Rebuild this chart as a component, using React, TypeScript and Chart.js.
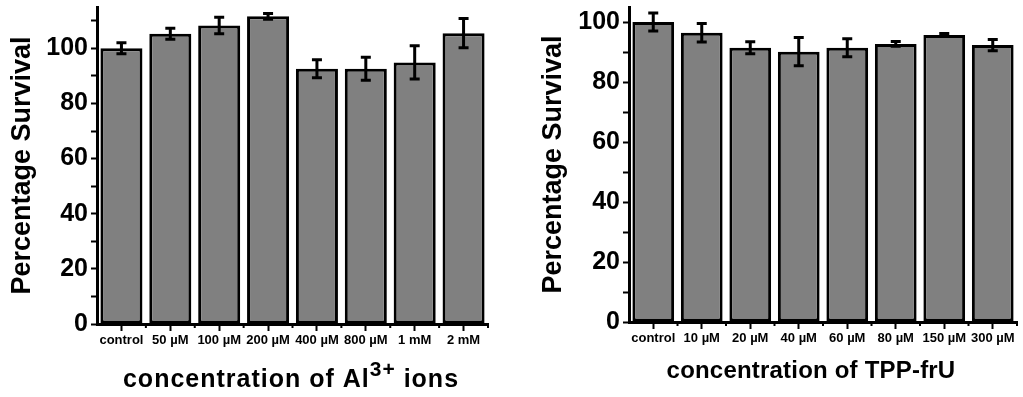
import { useEffect, useRef } from 'react';
import { Chart, registerables } from 'chart.js';

Chart.register(...registerables);

const FONT = '"Liberation Sans", Arial, Helvetica, sans-serif';

// Left panel: Al3+ ions
const alLabels = ['control', '50 µM', '100 µM', '200 µM', '400 µM', '800 µM', '1 mM', '2 mM'];
const alValues = [100, 105.3, 108.3, 111.6, 92.6, 92.6, 94.9, 105.5];
const alErrors = [2, 2, 3, 1, 3.3, 4.2, 6, 5.3];
const alYTicks = [0, 10, 20, 30, 40, 50, 60, 70, 80, 90, 100, 110];

// Right panel: TPP-frU
const tppLabels = ['control', '10 µM', '20 µM', '40 µM', '60 µM', '80 µM', '150 µM', '300 µM'];
const tppValues = [100, 96.4, 91.4, 90.1, 91.4, 92.7, 95.7, 92.3];
const tppErrors = [3, 3.1, 2, 4.7, 3, 0.8, 0.5, 1.9];
const tppYTicks = [0, 10, 20, 30, 40, 50, 60, 70, 80, 90, 100];

const yTitle = 'Percentage Survival';

type Part = { text: string; size: number; rise: number };

function makeConfig(opts: {
  labels: string[];
  values: number[];
  errors: number[];
  yTicks: number[];
  yMax: number;
  axisWidth: number;
  axisHeight: number;
  padRight: number;
  titlePad: number;
  titleParts: Part[];
  titleCenterX: number;
  titleBaseline: number;
  titleSpacing: number;
}): any {
  const errorPlugin = {
    id: 'errbars',
    afterDatasetsDraw(chart: any) {
      const ctx = chart.ctx;
      const xs = chart.scales.x;
      const ys = chart.scales.y;
      ctx.save();
      ctx.strokeStyle = '#000';
      ctx.lineWidth = 3;
      opts.values.forEach((v, i) => {
        const e = opts.errors[i];
        const x = xs.getPixelForValue(i);
        const yt = ys.getPixelForValue(v + e);
        const yb = ys.getPixelForValue(v - e);
        ctx.beginPath();
        ctx.moveTo(x, yt);
        ctx.lineTo(x, yb);
        ctx.moveTo(x - 5, yt);
        ctx.lineTo(x + 5, yt);
        ctx.moveTo(x - 5, yb);
        ctx.lineTo(x + 5, yb);
        ctx.stroke();
      });
      // minor ticks at category boundaries
      const n = opts.labels.length;
      const w = (xs.right - xs.left) / n;
      ctx.lineWidth = 2;
      ctx.beginPath();
      for (let i = 1; i <= n; i++) {
        const x = xs.left + i * w;
        ctx.moveTo(x, xs.top);
        ctx.lineTo(x, xs.top + 4);
      }
      ctx.stroke();
      // x axis title
      ctx.fillStyle = '#000';
      ctx.textBaseline = 'alphabetic';
      ctx.textAlign = 'left';
      (ctx as any).letterSpacing = `${opts.titleSpacing}px`;
      let total = 0;
      const widths = opts.titleParts.map((p) => {
        ctx.font = `bold ${p.size}px ${FONT}`;
        const m = ctx.measureText(p.text).width;
        total += m;
        return m;
      });
      let x = opts.titleCenterX - total / 2;
      opts.titleParts.forEach((p, i) => {
        ctx.font = `bold ${p.size}px ${FONT}`;
        ctx.fillText(p.text, x, opts.titleBaseline - p.rise);
        x += widths[i];
      });
      (ctx as any).letterSpacing = '0px';
      ctx.restore();
    },
  };

  return {
    type: 'bar',
    data: {
      labels: opts.labels,
      datasets: [
        {
          data: opts.values,
          backgroundColor: '#808080',
          borderColor: '#000',
          borderWidth: 3,
          borderSkipped: false,
          categoryPercentage: 1,
          barPercentage: 0.86,
        },
      ],
    },
    options: {
      animation: false,
      responsive: false,
      maintainAspectRatio: false,
      layout: { padding: { top: 7, right: opts.padRight, left: 0, bottom: 0 } },
      plugins: { legend: { display: false }, tooltip: { enabled: false } },
      scales: {
        x: {
          offset: true,
          border: { display: true, color: '#000', width: 3 },
          grid: {
            display: true,
            offset: false,
            drawOnChartArea: false,
            drawTicks: true,
            tickLength: 7,
            tickWidth: 2,
            tickColor: '#000',
          },
          ticks: {
            autoSkip: false,
            maxRotation: 0,
            minRotation: 0,
            padding: 2,
            color: '#000',
            font: { family: FONT, size: 13, weight: 'bold' },
          },
          afterFit(scale: any) {
            scale.height = opts.axisHeight;
          },
        },
        y: {
          min: 0,
          max: opts.yMax,
          afterBuildTicks(scale: any) {
            scale.ticks = opts.yTicks.map((v) => ({ value: v }));
          },
          border: { display: true, color: '#000', width: 3 },
          grid: {
            display: true,
            drawOnChartArea: false,
            drawTicks: true,
            tickLength: 6,
            tickWidth: 2,
            tickColor: '#000',
          },
          ticks: {
            autoSkip: false,
            padding: 3,
            color: '#000',
            font: { family: FONT, size: 25, weight: 'bold', lineHeight: 0.3 },
            callback: (v: any) => (v % 20 === 0 ? String(v) : ''),
          },
          title: {
            display: true,
            text: yTitle,
            color: '#000',
            font: { family: FONT, size: 27, weight: 'bold', lineHeight: 1.2 },
            padding: { top: opts.titlePad, bottom: 0 },
          },
          afterFit(scale: any) {
            scale.width = opts.axisWidth;
          },
        },
      },
    },
    plugins: [errorPlugin],
  };
}

function Panel(props: { config: any; left: number; width: number }) {
  const ref = useRef<HTMLCanvasElement | null>(null);
  useEffect(() => {
    if (!ref.current) return;
    const chart = new Chart(ref.current, props.config);
    return () => chart.destroy();
  }, []);
  return (
    <canvas
      ref={ref}
      width={props.width}
      height={397}
      style={{ position: 'absolute', left: props.left, top: 0, width: props.width, height: 397 }}
    />
  );
}

export default function App() {
  const leftConfig = makeConfig({
    labels: alLabels,
    values: alValues,
    errors: alErrors,
    yTicks: alYTicks,
    yMax: 115,
    axisWidth: 97,
    axisHeight: 73,
    padRight: 12,
    titlePad: 6,
    titleParts: [
      { text: 'concentration of Al', size: 25, rise: 0 },
      { text: '3+', size: 21, rise: 11 },
      { text: ' ions', size: 25, rise: 0 },
    ],
    titleCenterX: 291,
    titleBaseline: 387,
    titleSpacing: 1,
  });
  const rightConfig = makeConfig({
    labels: tppLabels,
    values: tppValues,
    errors: tppErrors,
    yTicks: tppYTicks,
    yMax: 105,
    axisWidth: 99,
    axisHeight: 75,
    padRight: 6,
    titlePad: 7,
    titleParts: [{ text: 'concentration of TPP-frU', size: 24, rise: 0 }],
    titleCenterX: 281,
    titleBaseline: 378,
    titleSpacing: 0.2,
  });
  return (
    <div style={{ position: 'fixed', left: 0, top: 0, width: 1023, height: 397, background: '#fff' }}>
      <Panel config={leftConfig} left={0} width={500} />
      <Panel config={rightConfig} left={530} width={493} />
    </div>
  );
}
